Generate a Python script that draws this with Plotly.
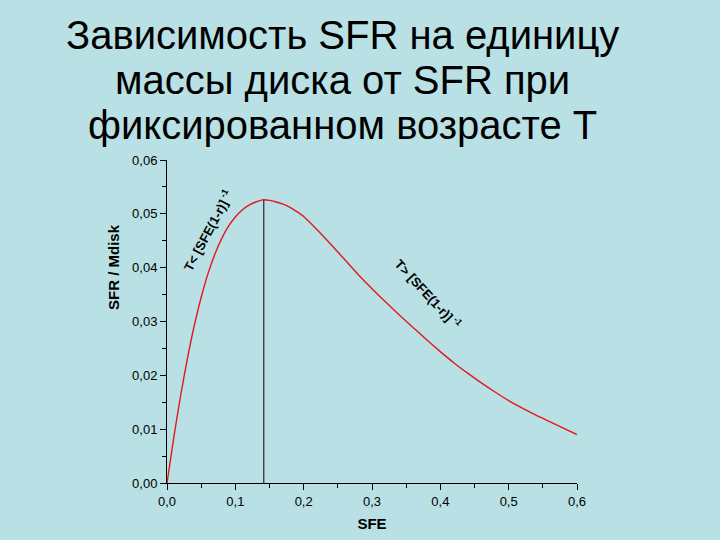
import plotly.graph_objects as go

# Data
sfe = [0.0, 0.01, 0.02, 0.03, 0.04, 0.05, 0.06, 0.07, 0.08, 0.09, 0.10, 0.11, 0.12,
       0.13, 0.14, 0.15, 0.16, 0.17, 0.18, 0.19, 0.20, 0.22, 0.24, 0.26, 0.28, 0.30,
       0.32, 0.34, 0.36, 0.38, 0.40, 0.42, 0.44, 0.46, 0.48, 0.50, 0.52, 0.54, 0.56,
       0.58, 0.60]
sfr_per_mdisk = [0.0, 0.0085, 0.0163, 0.0232, 0.0293, 0.0345, 0.0389, 0.0425, 0.0454,
                 0.0477, 0.0494, 0.0507, 0.0516, 0.0522, 0.0526, 0.0525, 0.0522, 0.0518,
                 0.0512, 0.0504, 0.0495, 0.0470, 0.0443, 0.0415, 0.0387, 0.0361, 0.0336,
                 0.0312, 0.0289, 0.0266, 0.0244, 0.0223, 0.0204, 0.0186, 0.0169, 0.0153,
                 0.0139, 0.0126, 0.0114, 0.0102, 0.0090]
peak_sfe = 0.1416
peak_val = 0.0526

title_lines = ["Зависимость SFR на единицу", "массы диска от SFR при",
               "фиксированном возрасте T"]
x_title = "SFE"
y_title = "SFR / Mdisk"
ann_left = "<b>T< [SFE(1-r)]<sup> -1</sup></b>"
ann_right = "<b>T> [SFE(1-r)]<sup> -1</sup></b>"

bg = "rgb(185,224,228)"
W, H = 720, 540
M_L, M_R, M_T, M_B = 167, 143, 160, 57
plot_w = W - M_L - M_R
plot_h = H - M_T - M_B


def px_x(px):
    return (px - M_L) / plot_w


def px_y(py):
    return (H - M_B - py) / plot_h


fig = go.Figure()
fig.add_trace(go.Scatter(x=sfe, y=sfr_per_mdisk, mode="lines",
                         line=dict(color="rgb(228,24,28)", width=1.4, shape="spline",
                                   smoothing=0.6),
                         showlegend=False, hoverinfo="skip"))

fig.add_shape(type="line", x0=peak_sfe, x1=peak_sfe, y0=0, y1=peak_val,
              xref="x", yref="y", line=dict(color="rgb(40,40,40)", width=1.2))

fig.add_annotation(x=0.0586, y=0.0469, xref="x", yref="y", text=ann_left,
                   showarrow=False, textangle=-62,
                   font=dict(family="Liberation Sans, Arial", size=13, color="black"))
fig.add_annotation(x=0.383, y=0.0352, xref="x", yref="y", text=ann_right,
                   showarrow=False, textangle=47,
                   font=dict(family="Liberation Sans, Arial", size=13, color="black"))

# Title lines
for line, py in zip(title_lines, [35, 80, 125]):
    fig.add_annotation(x=px_x(342), xref="paper", y=px_y(py), yref="paper",
                       xanchor="center", yanchor="middle", showarrow=False, text=line,
                       font=dict(family="Liberation Sans, Arial", size=40, color="black"))

# y-axis title (placed as in the reference, above the plot centre)
fig.add_annotation(x=px_x(113), xref="paper", y=px_y(267), yref="paper",
                   xanchor="center", yanchor="middle", showarrow=False, textangle=-90,
                   text="<b>" + y_title + "</b>",
                   font=dict(family="Liberation Sans, Arial", size=15, color="black"))

fig.update_layout(
    width=W, height=H,
    paper_bgcolor=bg, plot_bgcolor=bg,
    margin=dict(l=M_L, r=M_R, t=M_T, b=M_B),
    separators=", ",
    font=dict(family="Liberation Sans, Arial", size=13, color="black"),
    xaxis=dict(range=[0, 0.6], dtick=0.1, tickformat=".1f", showgrid=False, zeroline=False,
               showline=True, linecolor="black", linewidth=1, ticks="outside", ticklen=6,
               tickcolor="black", tickfont=dict(size=13),
               minor=dict(ticks="outside", ticklen=4, dtick=0.05, tickcolor="black"),
               title=dict(text="<b>" + x_title + "</b>", font=dict(size=15), standoff=10)),
    yaxis=dict(range=[0, 0.06], dtick=0.01, tickformat=".2f", showgrid=False, zeroline=False,
               showline=True, linecolor="black", linewidth=1, ticks="outside", ticklen=6,
               tickcolor="black", tickfont=dict(size=13),
               minor=dict(ticks="outside", ticklen=4, dtick=0.005, tickcolor="black")),
)

fig.write_html("out.html", config={"displayModeBar": False})

# remove the default page margin so the figure fills the window
with open("out.html", encoding="utf-8") as f:
    html = f.read()
html = html.replace("<body>", '<body style="margin:0;background:%s">' % bg, 1)
with open("out.html", "w", encoding="utf-8") as f:
    f.write(html)
